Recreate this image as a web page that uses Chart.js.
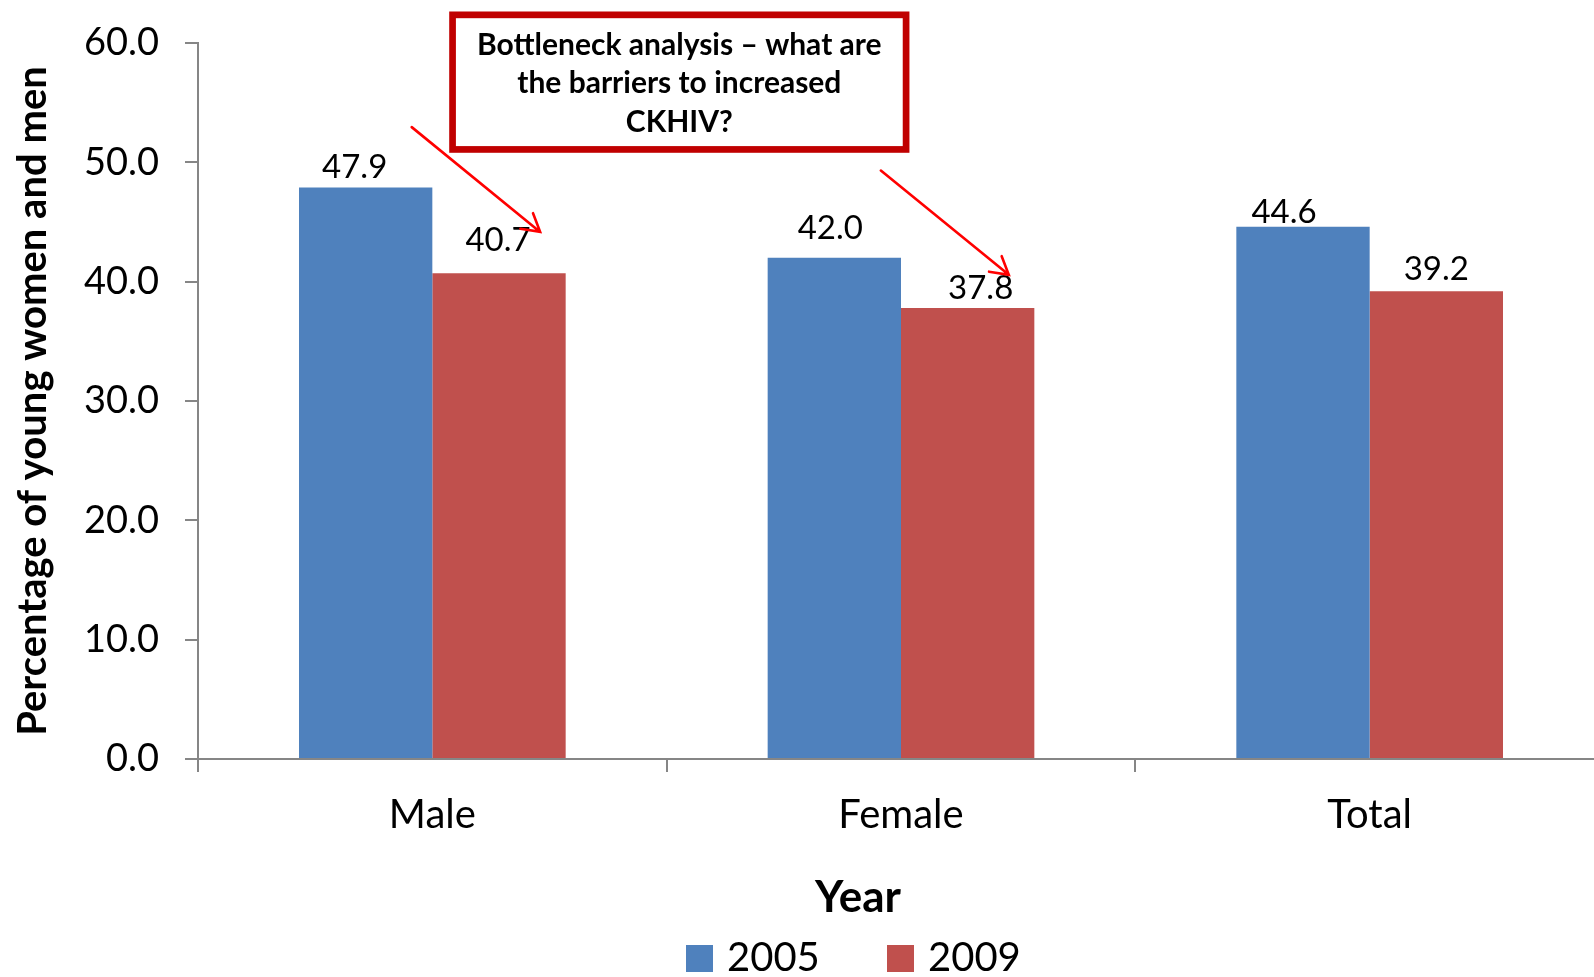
<!DOCTYPE html>
<html>
<head>
<meta charset="utf-8">
<title>Comprehensive knowledge of HIV among young people</title>
<script src="https://cdn.jsdelivr.net/npm/chart.js@4.4.1/dist/chart.umd.min.js"></script>
<style>
  html, body { margin: 0; padding: 0; background: #ffffff; overflow: hidden; }
  #wrap { position: absolute; left: 0; top: 0; width: 1610px; height: 977px; }
</style>
</head>
<body>
<div id="wrap"><canvas id="chart" width="1610" height="977"></canvas></div>
<script>
// Categories and survey values (percent)
const categories = ['Male', 'Female', 'Total'];
const seriesNames = ['2005', '2009'];
const values2005 = [47.9, 42.0, 44.6];
const values2009 = [40.7, 37.8, 39.2];
const yTickValues = [0, 10, 20, 30, 40, 50, 60];

const axisTitleY = 'Percentage of young women and men';
const axisTitleX = 'Year';
const calloutLines = ['Bottleneck analysis \u2013 what are', 'the barriers to increased', 'CKHIV?'];

// Value-label nudges in pixels [dx, dy of label centre relative to bar top]
const labelNudge2005 = [[-11, -21], [-4, -31], [-19, -16]];
const labelNudge2009 = [[-1, -34], [13, -21], [0, -23]];

// Callout and arrows anchored in scale units (category index, value)
const calloutBox = { x0: 0.036, x1: 1.018, yTop: 62.64, yBottom: 50.8 };
const arrows = [
  { from: [-0.044, 52.95], to: [0.230, 44.17] },
  { from: [0.957, 49.31], to: [1.230, 40.57] }
];

const BLUE = '#4F81BD';
const RED = '#C0504D';
const AXIS = '#868686';
const FONT = 'Lato, "Open Sans", sans-serif';

const overlayPlugin = {
  id: 'overlay',
  afterDatasetsDraw(chart) {
    const ctx = chart.ctx;
    const xs = chart.scales.x, ys = chart.scales.y;

    // value labels above bars
    ctx.save();
    ctx.fillStyle = '#000';
    ctx.font = '33px ' + FONT;
    ctx.textAlign = 'center';
    ctx.textBaseline = 'alphabetic';
    const nudges = [labelNudge2005, labelNudge2009];
    chart.data.datasets.forEach((ds, di) => {
      const meta = chart.getDatasetMeta(di);
      meta.data.forEach((bar, i) => {
        const n = nudges[di][i];
        ctx.fillText(ds.data[i].toFixed(1), bar.x + n[0], bar.y + n[1] + 12);
      });
    });
    ctx.restore();

    // arrows
    ctx.save();
    ctx.strokeStyle = '#FF0000';
    ctx.lineWidth = 2.6;
    ctx.lineCap = 'round';
    arrows.forEach(a => {
      const x0 = xs.getPixelForValue(a.from[0]), y0 = ys.getPixelForValue(a.from[1]);
      const x1 = xs.getPixelForValue(a.to[0]), y1 = ys.getPixelForValue(a.to[1]);
      ctx.beginPath();
      ctx.moveTo(x0, y0);
      ctx.lineTo(x1, y1);
      const ang = Math.atan2(y1 - y0, x1 - x0);
      const len = 20, spread = Math.PI / 6;
      ctx.moveTo(x1 + len * Math.cos(ang + Math.PI - spread), y1 + len * Math.sin(ang + Math.PI - spread));
      ctx.lineTo(x1, y1);
      ctx.lineTo(x1 + len * Math.cos(ang + Math.PI + spread), y1 + len * Math.sin(ang + Math.PI + spread));
      ctx.stroke();
    });
    ctx.restore();

    // callout box
    ctx.save();
    const bw = 6.7;
    const bx0 = xs.getPixelForValue(calloutBox.x0), bx1 = xs.getPixelForValue(calloutBox.x1);
    const by0 = ys.getPixelForValue(calloutBox.yTop), by1 = ys.getPixelForValue(calloutBox.yBottom);
    ctx.fillStyle = '#fff';
    ctx.fillRect(bx0, by0, bx1 - bx0, by1 - by0);
    ctx.strokeStyle = '#C00000';
    ctx.lineWidth = bw;
    ctx.strokeRect(bx0 + bw / 2, by0 + bw / 2, bx1 - bx0 - bw, by1 - by0 - bw);
    ctx.fillStyle = '#000';
    ctx.font = 'bold 30px ' + FONT;
    ctx.textAlign = 'center';
    ctx.textBaseline = 'alphabetic';
    const cx = (bx0 + bx1) / 2, cy = (by0 + by1) / 2;
    calloutLines.forEach((t, i) => ctx.fillText(t, cx, cy + (i - 1) * 38.5 + 11));
    ctx.restore();

    // x-axis title and legend
    ctx.save();
    ctx.fillStyle = '#000';
    ctx.textAlign = 'center';
    ctx.textBaseline = 'alphabetic';
    ctx.font = 'bold 44px ' + FONT;
    ctx.fillText(axisTitleX, 858, 912);
    ctx.textAlign = 'left';
    ctx.font = '40px ' + FONT;
    const legendX = [686, 887];
    chart.data.datasets.forEach((ds, di) => {
      ctx.fillStyle = ds.backgroundColor;
      ctx.fillRect(legendX[di], 945, 27, 27);
      ctx.fillStyle = '#000';
      ctx.fillText(ds.label, legendX[di] + 41, 971);
    });
    ctx.restore();
  }
};

new Chart(document.getElementById('chart'), {
  type: 'bar',
  data: {
    labels: categories,
    datasets: [
      { label: seriesNames[0], data: values2005, backgroundColor: BLUE, categoryPercentage: 0.569, barPercentage: 1.0 },
      { label: seriesNames[1], data: values2009, backgroundColor: RED, categoryPercentage: 0.569, barPercentage: 1.0 }
    ]
  },
  options: {
    responsive: false,
    devicePixelRatio: 1,
    animation: false,
    layout: { padding: { left: 0, right: 6, top: 43, bottom: 0 } },
    plugins: {
      legend: { display: false },
      tooltip: { enabled: false }
    },
    scales: {
      x: {
        offset: true,
        grid: { offset: true, drawOnChartArea: false, drawTicks: true, tickLength: 13, color: AXIS, lineWidth: 2 },
        border: { display: true, color: AXIS, width: 2 },
        ticks: { color: '#000', font: { family: FONT, size: 40 }, padding: 19, maxRotation: 0, autoSkip: false },
        afterFit(scale) { scale.height = 218; scale.paddingLeft = 0; scale.paddingRight = 0; }
      },
      y: {
        min: 0,
        max: 60,
        afterBuildTicks(scale) { scale.ticks = yTickValues.map(v => ({ value: v })); },
        grid: { drawOnChartArea: false, drawTicks: true, tickLength: 13, color: AXIS, lineWidth: 2 },
        border: { display: true, color: AXIS, width: 2 },
        ticks: { color: '#000', font: { family: FONT, size: 38 }, padding: 26, callback: v => Number(v).toFixed(1) },
        title: { display: true, text: axisTitleY, color: '#000', font: { family: FONT, size: 40, weight: 'bold' }, padding: { top: 9, bottom: 0 } },
        afterFit(scale) { scale.width = 198; scale.paddingTop = 0; scale.paddingBottom = 0; }
      }
    }
  },
  plugins: [overlayPlugin]
});
</script>
</body>
</html>
